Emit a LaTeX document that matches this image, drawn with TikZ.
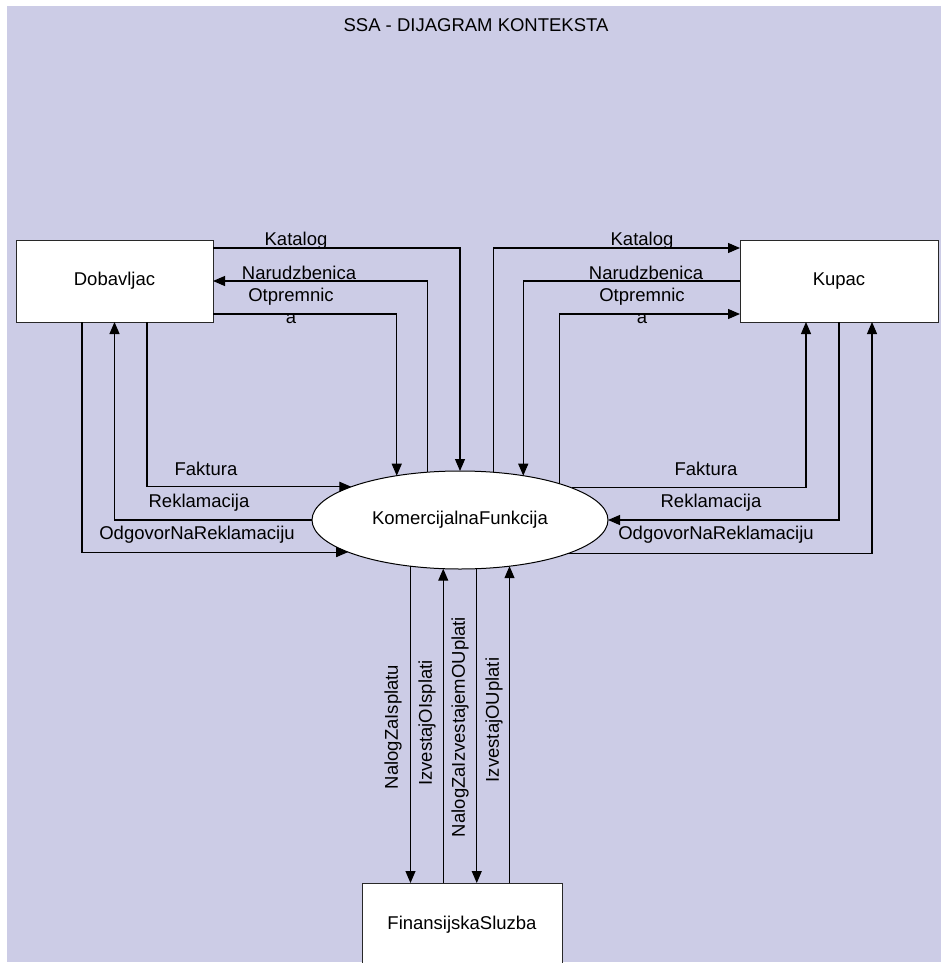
\documentclass[tikz,border=0pt]{standalone}
\usepackage{fontspec}
\setmainfont{Liberation Sans}
\usetikzlibrary{arrows.meta,shapes.geometric}
\definecolor{bgcol}{RGB}{204,204,230}
\definecolor{bordercol}{RGB}{40,40,40}
\tikzset{
  lbl/.style={inner sep=0pt, outer sep=0pt, font=\fontsize{18.5}{22}\selectfont, align=center},
  boxnode/.style={draw=bordercol, fill=white, line width=1pt, inner sep=0pt, outer sep=0pt, font=\fontsize{18.5}{22}\selectfont},
  procnode/.style={ellipse, draw=black, fill=white, line width=1pt, inner sep=0pt, outer sep=0pt, minimum width=296pt, minimum height=98pt, font=\fontsize{18.5}{22}\selectfont},
  arr/.style={draw=black, line width=1.1pt, -{Triangle[length=12pt,width=10pt]}}
}
\begin{document}
\begin{tikzpicture}[x=1pt,y=-1pt]
\useasboundingbox (0,0) rectangle (942,963);
\clip (0,0) rectangle (942,963);
\fill[bgcol] (7,6) rectangle (941,962);
\node[lbl] (title) at (476,25) {SSA - DIJAGRAM KONTEKSTA};
% nodes
\node[boxnode, minimum width=197pt, minimum height=82pt] (dob) at (114.5,281) {Dobavljac};
\node[boxnode, minimum width=198pt, minimum height=82pt] (kup) at (839,281) {Kupac};
\node[boxnode, minimum width=200pt, minimum height=84pt] (fin) at (462,925) {FinansijskaSluzba};
\node[procnode] (kf) at (460,520) {KomercijalnaFunkcija};
% left side flows
\draw[arr] ([yshift=33pt]dob.east) -| (kf.north);
\draw[arr] (kf.124.64) |- (dob.east);
\draw[arr] ([yshift=-33pt]dob.east) -| (kf.145.9);
\draw[arr] ([xshift=32.5pt]dob.south) |- (kf.163.2);
\draw[arr] (kf.west) -| (dob.south);
\draw[arr] ([xshift=-32.5pt]dob.south) |- (kf.196.8);
% right side flows
\draw[arr] (kf.55.36) |- ([yshift=33pt]kup.west);
\draw[arr] (kup.west) -| (kf.35.67);
\draw[arr] (kf.20.2) |- ([yshift=-33pt]kup.west);
\draw[arr] (kf.16.78) -| ([xshift=-33pt]kup.south);
\draw[arr] (kup.south) |- (kf.east);
\draw[arr] (kf.343.2) -| ([xshift=33pt]kup.south);
% bottom flows
\draw[arr] (kf.223.33) -- (kf.223.33 |- fin.north);
\draw[arr] (fin.north -| kf.251.82) -- (kf.251.82);
\draw[arr] (kf.289.25) -- (kf.289.25 |- fin.north);
\draw[arr] (fin.north -| kf.317.31) -- (kf.317.31);
% labels left
\node[lbl] (lkat) at (296,241) {Katalog};
\node[lbl] (lnar) at (299,273) {Narudzbenica};
\node[lbl] (lotp) at (291,306) {Otpremnic\\a};
\node[lbl] (lfak) at (206,469) {Faktura};
\node[lbl] (lrek) at (199,503) {Reklamacija};
\node[lbl] (lodg) at (197,535) {OdgovorNaReklamaciju};
% labels right
\node[lbl] (rkat) at (642,241) {Katalog};
\node[lbl] (rnar) at (646,273) {Narudzbenica};
\node[lbl] (rotp) at (642,306) {Otpremnic\\a};
\node[lbl] (rfak) at (706,469) {Faktura};
\node[lbl] (rrek) at (711,503) {Reklamacija};
\node[lbl] (rodg) at (716,535) {OdgovorNaReklamaciju};
% labels bottom
\node[lbl, rotate=90] (bnal) at (393,727) {NalogZaIsplatu};
\node[lbl, rotate=90] (bizi) at (427,723) {IzvestajOIsplati};
\node[lbl, rotate=90] (bniz) at (460,727) {NalogZaIzvestajemOUplati};
\node[lbl, rotate=90] (bizu) at (494,720) {IzvestajOUplati};
\end{tikzpicture}
\end{document}
